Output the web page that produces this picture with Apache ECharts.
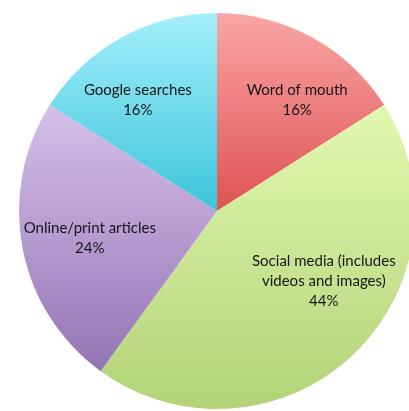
<!DOCTYPE html>
<html>
<head>
<meta charset="utf-8">
<script src="https://cdn.jsdelivr.net/npm/echarts@6/dist/echarts.min.js"></script>
<style>
  html, body { margin: 0; padding: 0; background: #ffffff; }
  #chart { width: 409px; height: 411px; }
</style>
</head>
<body>
<div id="chart"></div>
<script>
// Where people heard about it (share of respondents, %)
const categories = [
  'Word of mouth',
  'Social media (includes\nvideos and images)',
  'Online/print articles',
  'Google searches'
];
const values = [16, 44, 24, 16];

// Top-to-bottom gradient stops for each slice
const topColors = ['#faa6a6', '#e2f8b0', '#d6c0ea', '#a4effb'];
const bottomColors = ['#de5252', '#b2d378', '#9475b4', '#3cc4da'];

// Nudges that move each label from the mid-radius spot toward the rim
const labelShift = [[31, -21], [37, -4], [-27, 8], [-30, -21]];

const chart = echarts.init(document.getElementById('chart'), null, { renderer: 'canvas' });

const data = categories.map((name, i) => ({
  name: name,
  value: values[i],
  itemStyle: {
    color: new echarts.graphic.LinearGradient(0, 0, 0, 1, [
      { offset: 0, color: topColors[i] },
      { offset: 1, color: bottomColors[i] }
    ])
  }
}));

chart.setOption({
  backgroundColor: '#ffffff',
  animation: false,
  series: [{
    type: 'pie',
    center: [217, 211],
    radius: [0, 198],
    startAngle: 90,
    clockwise: true,
    avoidLabelOverlap: false,
    data: data,
    itemStyle: { borderWidth: 0 },
    emphasis: { disabled: true },
    label: {
      show: true,
      position: 'inside',
      formatter: '{b}\n{c}%',
      fontFamily: 'Lato',
      fontSize: 15,
      lineHeight: 20,
      color: '#161616',
      align: 'center'
    },
    labelLine: { show: false },
    labelLayout: function (params) {
      const s = labelShift[params.dataIndex];
      return { dx: s[0], dy: s[1] };
    }
  }]
});
</script>
</body>
</html>
